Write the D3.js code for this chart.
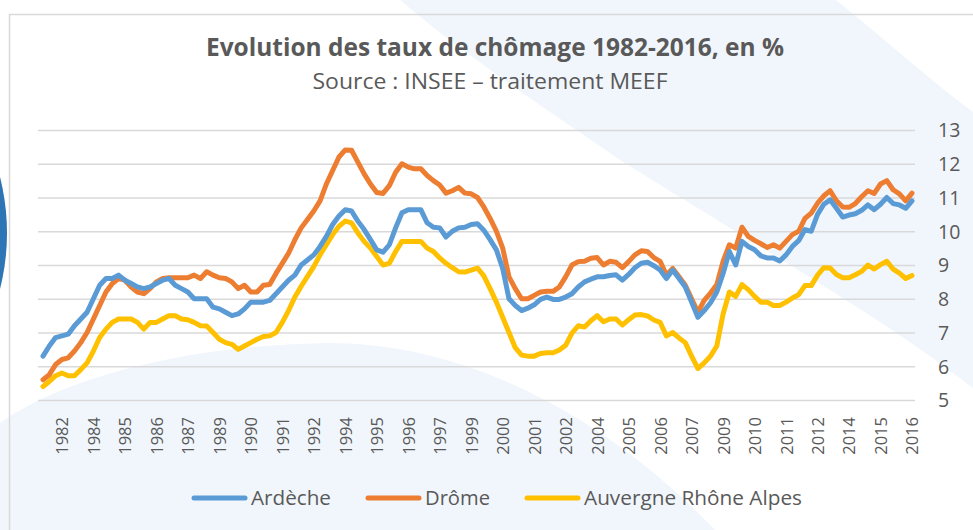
<!DOCTYPE html>
<html>
<head>
<meta charset="utf-8">
<script src="https://cdn.jsdelivr.net/npm/d3@7"></script>
<style>
  html, body { margin: 0; padding: 0; background: #ffffff; }
  svg { display: block; }
  text { font-family: "Open Sans", "Noto Sans", "DejaVu Sans", sans-serif; fill: #595959; }
</style>
</head>
<body>
<svg id="chart" width="973" height="530"></svg>
<script>
// ---------- DATA ----------
const title = "Evolution des taux de chômage 1982-2016, en %";
const subtitle = "Source : INSEE – traitement MEEF";
const seriesNames = ["Ardèche", "Drôme", "Auvergne Rhône Alpes"];
const seriesColors = ["#5B9BD5", "#ED7D31", "#FFC000"];

// quarterly categories 1982 T1 .. 2016 T3
const years = d3.range(1982, 2017);
const categories = [];
years.forEach(y => [1, 2, 3, 4].forEach(q => { if (!(y === 2016 && q === 4)) categories.push(y + " T" + q); }));

// categories that carry a tick label
const tickCategories = ["1982 T4","1984 T1","1985 T2","1986 T3","1987 T4","1989 T1","1990 T2","1991 T3","1992 T4",
  "1994 T1","1995 T2","1996 T3","1997 T4","1999 T1","2000 T2","2001 T3","2002 T4","2004 T1","2005 T2","2006 T3",
  "2007 T4","2009 T1","2010 T2","2011 T3","2012 T4","2014 T1","2015 T2","2016 T3"];

const yTicks = [5, 6, 7, 8, 9, 10, 11, 12, 13];

const ardeche = [
  6.3, 6.6, 6.85, 6.9, 6.95, 7.2, 7.4, 7.6, 8.0, 8.4,
  8.6, 8.6, 8.7, 8.55, 8.45, 8.35, 8.3, 8.35, 8.45, 8.55,
  8.6, 8.4, 8.3, 8.2, 8.0, 8.0, 8.0, 7.75, 7.7, 7.6,
  7.5, 7.55, 7.7, 7.9, 7.9, 7.9, 7.95, 8.15, 8.35, 8.55,
  8.7, 9.0, 9.15, 9.3, 9.55, 9.85, 10.2, 10.45, 10.64, 10.6,
  10.3, 10.05, 9.75, 9.45, 9.38, 9.6, 10.1, 10.55, 10.64, 10.64,
  10.64, 10.25, 10.12, 10.1, 9.83, 10.0, 10.1, 10.12, 10.2, 10.22,
  10.03, 9.75, 9.45, 8.9, 8.0, 7.8, 7.65, 7.72, 7.82, 7.98,
  8.05, 7.98, 7.98, 8.05, 8.15, 8.35, 8.5, 8.58, 8.65, 8.65,
  8.69, 8.71, 8.55, 8.72, 8.92, 9.05, 9.08, 8.98, 8.85, 8.6,
  8.85, 8.6, 8.35, 7.9, 7.45, 7.65, 7.88, 8.2, 8.75, 9.4,
  9.0, 9.7, 9.55, 9.45, 9.27, 9.21, 9.21, 9.12, 9.3, 9.55,
  9.72, 10.05, 10.0, 10.5, 10.8, 10.93, 10.68, 10.42, 10.48, 10.52,
  10.62, 10.78, 10.64, 10.8, 11.0, 10.82, 10.78, 10.68, 10.9
];

const drome = [
  5.6, 5.75, 6.05, 6.2, 6.25, 6.45, 6.7, 7.0, 7.4, 7.8,
  8.2, 8.45, 8.6, 8.55, 8.35, 8.2, 8.15, 8.3, 8.5, 8.6,
  8.62, 8.62, 8.62, 8.62, 8.7, 8.6, 8.8, 8.7, 8.62, 8.6,
  8.5, 8.3, 8.4, 8.2, 8.2, 8.4, 8.42, 8.75, 9.05, 9.35,
  9.75, 10.1, 10.35, 10.6, 10.9, 11.4, 11.8, 12.2, 12.41, 12.4,
  12.05, 11.7, 11.4, 11.15, 11.12, 11.35, 11.75, 12.0, 11.9, 11.85,
  11.85, 11.65, 11.5, 11.37, 11.13, 11.2, 11.3, 11.13, 11.11, 11.0,
  10.72, 10.38, 10.0, 9.5, 8.65, 8.3, 8.0, 8.0, 8.1, 8.2,
  8.22, 8.22, 8.35, 8.65, 9.0, 9.1, 9.11, 9.2, 9.22, 9.0,
  9.11, 9.08, 8.92, 9.1, 9.3, 9.42, 9.4, 9.22, 9.11, 8.7,
  8.9, 8.65, 8.4, 8.0, 7.6, 7.95, 8.17, 8.42, 9.11, 9.6,
  9.5, 10.12, 9.85, 9.73, 9.63, 9.52, 9.6, 9.5, 9.7, 9.9,
  10.0, 10.38, 10.54, 10.83, 11.05, 11.2, 10.9, 10.72, 10.71, 10.82,
  11.02, 11.2, 11.12, 11.4, 11.5, 11.23, 11.11, 10.9, 11.13
];

const auvergneRhoneAlpes = [
  5.4, 5.55, 5.72, 5.8, 5.72, 5.72, 5.9, 6.1, 6.45, 6.85,
  7.1, 7.3, 7.4, 7.4, 7.4, 7.3, 7.1, 7.3, 7.3, 7.4,
  7.5, 7.5, 7.4, 7.38, 7.3, 7.2, 7.19, 7.0, 6.8, 6.7,
  6.65, 6.5, 6.6, 6.7, 6.8, 6.88, 6.9, 7.0, 7.3, 7.65,
  8.05, 8.37, 8.66, 8.95, 9.3, 9.6, 9.9, 10.15, 10.3, 10.25,
  9.95, 9.7, 9.5, 9.25, 9.0, 9.05, 9.4, 9.7, 9.7, 9.7,
  9.7, 9.5, 9.4, 9.21, 9.05, 8.92, 8.8, 8.79, 8.85, 8.91,
  8.68, 8.3, 7.9, 7.45, 7.0, 6.55, 6.33, 6.3, 6.3, 6.38,
  6.4, 6.4, 6.48, 6.62, 6.98, 7.2, 7.16, 7.35, 7.5, 7.32,
  7.4, 7.4, 7.22, 7.38, 7.52, 7.53, 7.49, 7.37, 7.3, 6.9,
  7.0, 6.84, 6.7, 6.3, 5.93, 6.1, 6.3, 6.6, 7.55, 8.2,
  8.07, 8.42, 8.27, 8.07, 7.9, 7.9, 7.8, 7.8, 7.9, 8.02,
  8.12, 8.39, 8.39, 8.7, 8.92, 8.91, 8.72, 8.62, 8.62, 8.71,
  8.81, 9.0, 8.88, 9.01, 9.11, 8.88, 8.76, 8.6, 8.69
];

const seriesValues = [ardeche, drome, auvergneRhoneAlpes];

// ---------- DRAW ----------
const svg = d3.select("#chart");
const W = 973, H = 530;

// background decoration
const bg = svg.append("g");
bg.append("rect").attr("width", W).attr("height", H).attr("fill", "#ffffff");
bg.append("path")
  .attr("d", "M400,0 L836,0 C880,35 930,80 973,112 L973,388 C960,378 930,355 880,322 C800,270 700,210 620,160 C560,118 470,60 400,0 Z")
  .attr("fill", "#F1F6FC");
bg.append("path")
  .attr("d", "M0,530 L0,423 C60,380 180,345 330,343 C470,343 610,420 715,530 Z")
  .attr("fill", "#F1F6FC");

// frame
bg.append("line").attr("x1", 9).attr("x2", W).attr("y1", 14.5).attr("y2", 14.5).attr("stroke", "#D9D9D9").attr("stroke-width", 1.5);
bg.append("line").attr("x1", 9.5).attr("x2", 9.5).attr("y1", 14).attr("y2", H).attr("stroke", "#D9D9D9").attr("stroke-width", 1.5);

// dark blue disc at left edge
bg.append("circle").attr("cx", -220).attr("cy", 233).attr("r", 227).attr("fill", "#2E75B6");

const x = d3.scalePoint().domain(categories).range([43, 912]);
const y = d3.scaleLinear().domain([5, 13]).range([400, 130]);

// gridlines + right value labels
const yAxis = d3.axisRight(y).tickValues(yTicks).tickSize(915 - 38).tickFormat(d3.format("d"));
const gy = svg.append("g").attr("transform", "translate(38,0)").call(yAxis);
gy.select(".domain").remove();
gy.selectAll(".tick line").attr("stroke", "#D9D9D9").attr("stroke-width", 1.5);
gy.selectAll(".tick text")
  .attr("x", 900)
  .attr("dy", "0.35em")
  .attr("font-size", "19.5px")
  .style("fill", "#595959")
  .attr("text-anchor", "start");

// x axis labels
const xAxis = d3.axisBottom(x).tickValues(tickCategories).tickSize(0).tickFormat(d => d.slice(0, 4));
const gx = svg.append("g").attr("transform", "translate(0,400)").call(xAxis);
gx.select(".domain").remove();
gx.selectAll(".tick text")
  .attr("transform", "rotate(-90)")
  .attr("x", -17)
  .attr("y", 0)
  .attr("dy", "0.36em")
  .attr("text-anchor", "end")
  .attr("font-size", "16.5px")
  .style("fill", "#595959");

// lines
const line = d3.line().x((d, i) => x(categories[i])).y(d => y(d));
const gl = svg.append("g");
[2, 1, 0].forEach(s => {
  gl.append("path")
    .datum(seriesValues[s])
    .attr("d", line)
    .attr("fill", "none")
    .attr("stroke", seriesColors[s])
    .attr("stroke-width", 5)
    .attr("stroke-linejoin", "round")
    .attr("stroke-linecap", "round");
});

// title
svg.append("text").attr("x", 495).attr("y", 56).attr("text-anchor", "middle")
  .attr("font-size", "25px").attr("font-weight", "bold").attr("textLength", 578).attr("lengthAdjust", "spacingAndGlyphs")
  .text(title);
svg.append("text").attr("x", 490).attr("y", 89).attr("text-anchor", "middle")
  .attr("font-size", "21px").attr("textLength", 355).attr("lengthAdjust", "spacingAndGlyphs")
  .text(subtitle);

// legend
const legendX = [192, 366, 525];
const legendTextW = [80, 65, 218];
const gLeg = svg.append("g");
seriesNames.forEach((n, i) => {
  gLeg.append("line").attr("x1", legendX[i] + 2).attr("x2", legendX[i] + 53).attr("y1", 498).attr("y2", 498)
    .attr("stroke", seriesColors[i]).attr("stroke-width", 5).attr("stroke-linecap", "round");
  gLeg.append("text").attr("x", legendX[i] + 59).attr("y", 498).attr("dy", "0.35em")
    .attr("font-size", "20.5px").attr("textLength", legendTextW[i]).attr("lengthAdjust", "spacingAndGlyphs")
    .text(n);
});
</script>
</body>
</html>
